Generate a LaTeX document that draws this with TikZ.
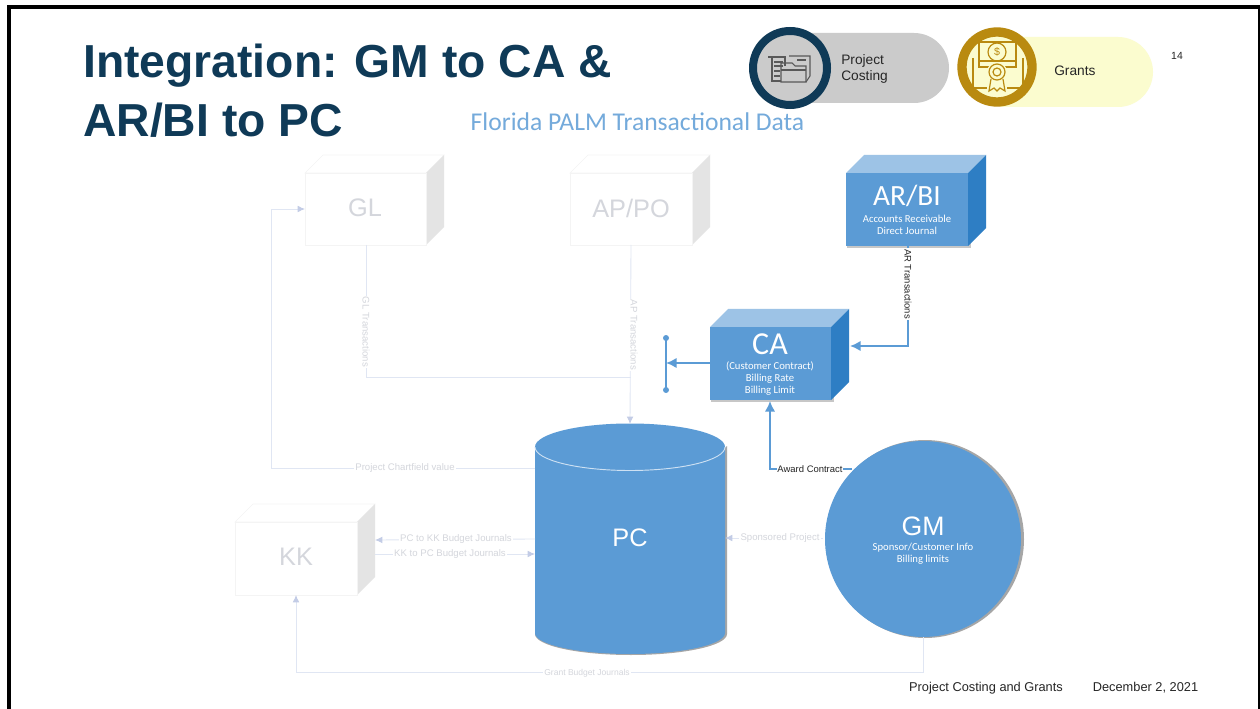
\documentclass[tikz,border=0pt]{standalone}
\usepackage{fontspec}
\setmainfont{Liberation Sans}
\newfontfamily\calfont{Carlito}
\usetikzlibrary{arrows.meta,shapes.geometric}
\definecolor{navy}{HTML}{0F3A57}
\definecolor{boxblue}{HTML}{5B9BD5}
\definecolor{boxtop}{HTML}{9DC3E6}
\definecolor{boxside}{HTML}{2E7EC4}
\definecolor{faintline}{HTML}{E0E6F3}
\definecolor{fainthead}{HTML}{C3CCE6}
\definecolor{fainttext}{HTML}{D4D6DC}
\definecolor{faintside}{HTML}{E4E4E4}
\definecolor{faintedge}{HTML}{F4F4F4}
\definecolor{pillgrey}{HTML}{CBCBCB}
\definecolor{pillyellow}{HTML}{FBFCCF}
\definecolor{gold}{HTML}{B98A10}
\tikzset{
  faintarrow/.style={draw=faintline,line width=.65pt,-{Latex[length=5.5pt,width=5pt,color=fainthead]}},
  faintlink/.style={draw=faintline,line width=.65pt},
  strongarrow/.style={draw=boxblue,line width=1.6pt,-{Latex[length=8pt,width=8pt]}},
  fainttag/.style={fill=white,inner sep=1pt,text=fainttext,font=\fontsize{7.2}{8}\selectfont},
  darktag/.style={fill=white,inner sep=.6pt,text=black!85,font=\fontsize{7.1}{8}\selectfont},
  bigtitle/.style={text=white,font=\calfont\fontsize{22}{24}\selectfont},
  smalltxt/.style={text=white,align=center,font=\calfont\fontsize{8}{9}\selectfont},
  fainttitle/.style={text=fainttext,font=\fontsize{19}{20}\selectfont},
  labeltext/.style={text=black!85,font=\fontsize{10.3}{12.5}\selectfont},
  foottext/.style={text=black!85,font=\fontsize{9.6}{11}\selectfont},
  pointdot/.style={circle,fill=boxblue,inner sep=0pt,minimum size=4.5pt},
}
\newcommand{\solidbox}[4]{% left, top, right, bottom of the front face
  \fill[black!22] (#1+1,#2+3) rectangle (#3+3,#4+2);
  \fill[boxtop] (#1,#2) -- (#1+18,#2-18) -- (#3+18,#2-18) -- (#3,#2) -- cycle;
  \fill[boxside] (#3,#2) -- (#3+18,#2-18) -- (#3+18,#4-18) -- (#3,#4) -- cycle;
  \fill[boxblue] (#1,#2) rectangle (#3,#4);
}
\newcommand{\faintbox}[4]{%
  \draw[faintedge,fill=white] (#1,#2) -- (#1+18,#2-18) -- (#3+18,#2-18) -- (#3,#2) -- cycle;
  \fill[faintside] (#3,#2) -- (#3+18,#2-18) -- (#3+18,#4-18) -- (#3,#4) -- cycle;
  \draw[faintedge,fill=white] (#1,#2) rectangle (#3,#4);
}
\begin{document}
\begin{tikzpicture}[x=0.75pt,y=-0.75pt]
\useasboundingbox (0,0) rectangle (1260,709);
\fill[white] (0,0) rectangle (1260,709);
\fill[black] (7,5) rectangle (1260,709);
\fill[white] (11,9) rectangle (1258,709);

% title
\node[anchor=west,text=navy,font=\bfseries\fontsize{34.7}{40}\selectfont,inner sep=0pt] (t1) at (83,66) {Integration: GM to CA \&};
\node[anchor=west,text=navy,font=\bfseries\fontsize{34.7}{40}\selectfont,inner sep=0pt] (t2) at (83,120) {AR/BI to PC};
\node[text=boxblue!85,font=\calfont\fontsize{19.2}{22}\selectfont,inner sep=0pt] (sub) at (637.5,122) {Florida PALM Transactional Data};

% pills
\fill[pillgrey] (790,33) -- (914,33) arc[start angle=-90,end angle=90,radius=35] -- (790,103) -- cycle;
\node[draw=navy,line width=6pt,circle,minimum size=55.5pt,inner sep=0pt,fill=pillgrey] (pcring) at (790,68) {};
\node[anchor=west,labeltext,align=left,inner sep=0pt] (pclab) at (841,69) {Project\\Costing};
\fill[pillyellow] (1000,37) -- (1118,37) arc[start angle=-90,end angle=90,radius=35] -- (1000,107) -- cycle;
\node[draw=gold,line width=7pt,circle,minimum size=52.5pt,inner sep=0pt,fill=pillyellow] (gring) at (997,67) {};
\node[anchor=west,labeltext,inner sep=0pt] (glab) at (1054,71) {Grants};
\node[text=black!85,inner sep=0pt,font=\fontsize{7.8}{9}\selectfont] (pg) at (1177,56) {14};
% project costing icon
\begin{scope}[draw=black!65,line width=.8pt]
\draw (768,57) -- (785,57) -- (785,66) (772,57) -- (772,81) -- (781,81);
\draw (774,62) -- (783,62) (774,66) -- (783,66) (774,71) -- (780,71) (774,76) -- (780,76);
\draw (789,56) -- (810,56) -- (810,76) -- (806,82);
\draw (781,70) -- (781,82) -- (806,82) -- (806,66) -- (795,66) -- (792,63) -- (781,63) -- cycle;
\draw (797,60) -- (806,60) (781,70) -- (806,70);
\end{scope}
% grants icon
\begin{scope}[draw=gold,line width=.9pt]
\draw (979,42) rectangle (1016,67);
\draw (997,52) circle[radius=9];
\draw (973,58) -- (973,88) -- (987,88) (1023,58) -- (1023,88) -- (1007,88);
\draw (979,61) -- (1016,61);
\fill[pillyellow] (997,72) circle[radius=10];
\draw (997,72) circle[radius=8];
\draw (997,72) circle[radius=4];
\draw (991,79) -- (989,91) -- (994,88) -- (997,91) -- (1000,88) -- (1005,91) -- (1003,79);
\end{scope}
\node[text=gold,font=\fontsize{8}{8}\selectfont,inner sep=0pt] (dollar) at (997,52) {\$};

% faint boxes
\faintbox{305}{173}{426}{245}
\node[fainttitle,inner sep=0pt] (gl) at (365,208) {GL};
\coordinate (glB) at (366,245);
\coordinate (glL) at (305,209);
\faintbox{570}{173}{692}{245}
\node[fainttitle,inner sep=0pt] (ap) at (631,208) {AP/PO};
\coordinate (apB) at (631,245);
\faintbox{235}{522}{357}{595}
\node[fainttitle,inner sep=0pt] (kk) at (296,557) {KK};
\coordinate (kkB) at (296,595);
\coordinate (kkR1) at (375,540);
\coordinate (kkR2) at (375,554);

% strong boxes
\solidbox{846}{173}{968}{246}
\node[bigtitle,inner sep=0pt] (ar) at (907,196) {AR/BI};
\node[smalltxt,inner sep=0pt] (artxt) at (907,225) {Accounts Receivable\\Direct Journal};
\coordinate (arB) at (908,246);
\solidbox{710}{327}{831}{400}
\node[bigtitle,inner sep=0pt,font=\calfont\fontsize{24}{26}\selectfont] (ca) at (770,344) {CA};
\node[smalltxt,inner sep=0pt] (catxt) at (770,379) {(Customer Contract)\\Billing Rate\\Billing Limit};
\coordinate (caR) at (850,346);
\coordinate (caL) at (710,363);
\coordinate (caB) at (770,401);

% cylinder PC
\coordinate (pcT) at (630,424);
\fill[black!35] (727,446) -- (727,634) arc[start angle=0,end angle=180,x radius=96,y radius=21] -- cycle;
\fill[boxblue] (535,447) arc[start angle=180,end angle=360,x radius=95,y radius=23.5]
  -- (725,633) arc[start angle=0,end angle=180,x radius=95,y radius=21] -- cycle;
\draw[white!70!boxblue,line width=.7pt] (535,447) arc[start angle=180,end angle=0,x radius=95,y radius=23.5];
\node[text=white,font=\fontsize{19}{20}\selectfont,inner sep=0pt] (pc) at (630,538) {PC};
\coordinate (pcL1) at (535,468);
\coordinate (pcL2) at (535,539);
\coordinate (pcL3) at (535,554);
\coordinate (pcR) at (725,538);

% circle GM
\fill[black!35] (925,539) circle[radius=99];
\node[circle,fill=boxblue,minimum size=147pt,inner sep=0pt] (gm) at (923,539) {};
\node[text=white,font=\fontsize{20}{22}\selectfont,inner sep=0pt] (gmt) at (923,526) {GM};
\node[smalltxt,inner sep=0pt] (gmtxt) at (923,554) {Sponsor/Customer Info\\Billing limits};
\coordinate (gmB) at (923,637);
\coordinate (gmL) at (823,538);
\coordinate (gmA) at (852,469);

% faint connectors
\coordinate (junc) at (631,377);
\draw[faintlink] (glB) |- (junc);
\draw[faintarrow] (apB) -- (pcT);
\draw[faintarrow] (pcL1) -| (271,209) -- (glL);
\draw[faintarrow] (pcL2) -- (kkR1);
\draw[faintarrow] (kkR2) -- (pcL3);
\draw[faintarrow] (gmL) -- (pcR);
\draw[faintarrow] (gmB) |- (kkB |- 0,672) -- (kkB);
\node[fainttag,rotate=-90] (l1) at (366,332) {GL Transactions};
\node[fainttag,rotate=-90] (l2) at (634,335) {AP Transactions};
\node[fainttag] (l3) at (405,468) {Project Chartfield value};
\node[fainttag] (l4) at (456,539) {PC to KK Budget Journals};
\node[fainttag] (l5) at (450,554) {KK to PC Budget Journals};
\node[fainttag] (l6) at (780,538) {Sponsored Project};
\node[fainttag,font=\fontsize{6.4}{8}\selectfont] (l7) at (587,673) {Grant Budget Journals};

% switch + strong connectors
\coordinate (swT) at (666,338);
\coordinate (swM) at (666,363);
\coordinate (swB) at (666,390);
\draw[boxblue,line width=1pt] (swT) -- (swB);
\node[pointdot] (d1) at (swT) {};
\node[pointdot] (d2) at (swB) {};
\draw[strongarrow] (caL) -- (swM);
\draw[strongarrow] (arB) |- (caR);
\draw[strongarrow] (gmA) -| (caB);
\node[darktag,rotate=-90] (l8) at (908,284) {AR Transactions};
\node[darktag] (l9) at (810,469) {Award Contract};

% footer
\node[foottext,inner sep=0pt] (f1) at (986,688) {Project Costing and Grants};
\node[foottext,inner sep=0pt] (f2) at (1145.5,688) {December 2, 2021};
\end{tikzpicture}
\end{document}
